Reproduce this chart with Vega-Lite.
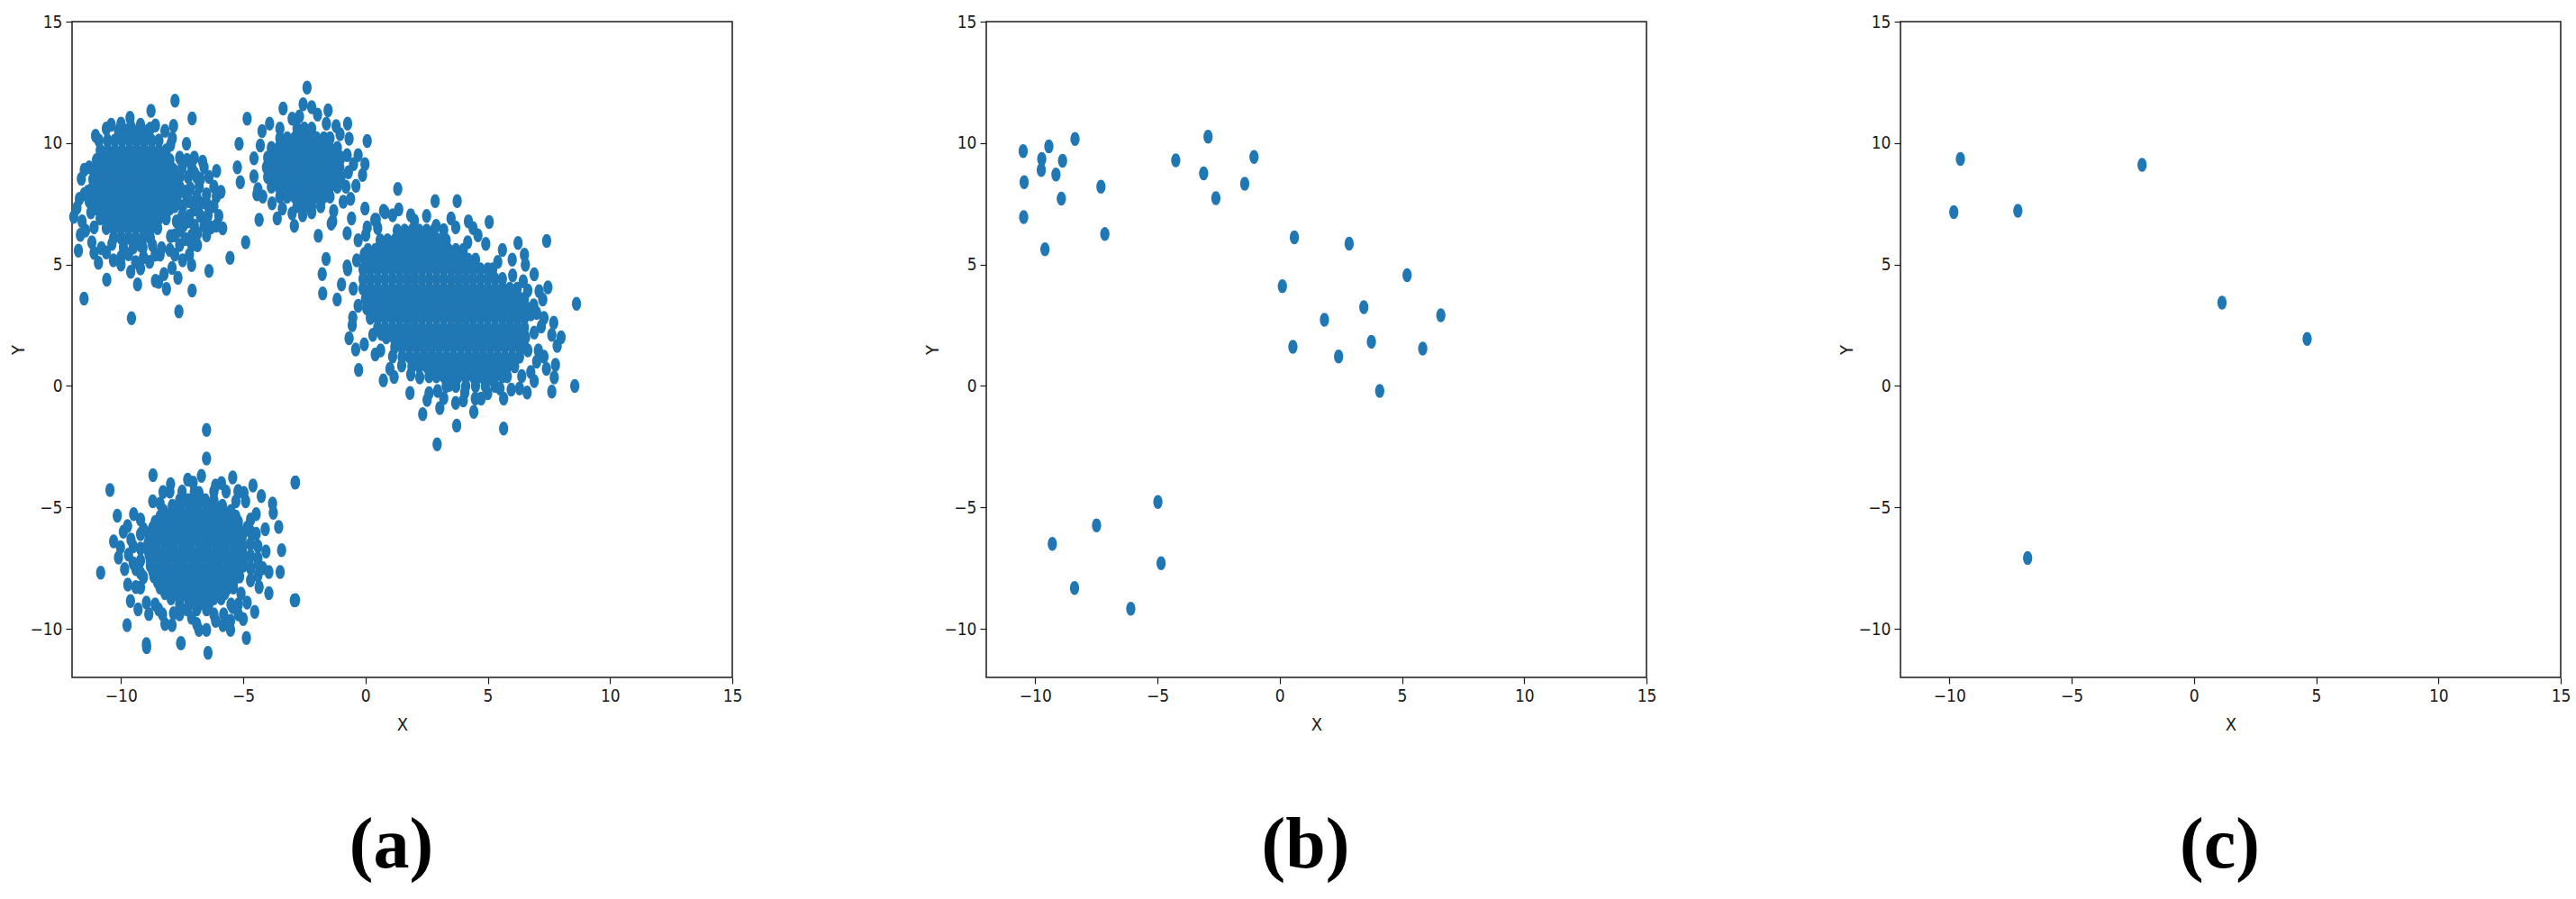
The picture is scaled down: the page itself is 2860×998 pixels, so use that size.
{
"$schema": "https://vega.github.io/schema/vega-lite/v6.json",
"background": "white",
"padding": {"left": 10, "top": 14, "right": 5, "bottom": 5},
"bounds": "flush",
"spacing": 282,
"config": {
  "view": {"stroke": "#1a1a1a", "strokeWidth": 1.5},
  "axis": {"domain": false, "grid": false, "tickColor": "#1a1a1a", "tickSize": 7, "tickWidth": 1.2, "labelFont": "'Liberation Sans Narrow', 'DejaVu Sans Condensed', 'Liberation Sans', sans-serif", "labelFontSize": 19, "labelColor": "#1a1a1a", "labelPadding": 4, "labelFlush": false, "labelOverlap": false, "labelBound": false, "titleFont": "'Liberation Sans Narrow', 'DejaVu Sans Condensed', 'Liberation Sans', sans-serif", "titleFontSize": 20, "titleFontWeight": "normal", "titleColor": "#1a1a1a"},
  "axisX": {"titlePadding": 12},
  "axisY": {"titlePadding": 2},
  "title": {"orient": "bottom", "font": "Liberation Serif", "fontSize": 80, "fontWeight": "bold", "color": "#000000", "offset": 86, "dx": -12}
},
"datasets": {
"a": [
{"x":-10.1,"y":10.5},{"x":-9.8,"y":10.5},{"x":-9.5,"y":10.5},{"x":-9.2,"y":10.5},{"x":-8.9,"y":10.5},
{"x":-10.55,"y":10.1},{"x":-10.25,"y":10.1},{"x":-9.95,"y":10.1},{"x":-9.65,"y":10.1},{"x":-9.35,"y":10.1},{"x":-9.05,"y":10.1},{"x":-8.75,"y":10.1},{"x":-8.45,"y":10.1},
{"x":-10.85,"y":9.7},{"x":-10.55,"y":9.7},{"x":-10.25,"y":9.7},{"x":-9.95,"y":9.7},{"x":-9.65,"y":9.7},{"x":-9.35,"y":9.7},{"x":-9.05,"y":9.7},{"x":-8.75,"y":9.7},{"x":-8.45,"y":9.7},{"x":-8.15,"y":9.7},
{"x":-11.0,"y":9.3},{"x":-10.7,"y":9.3},{"x":-10.4,"y":9.3},{"x":-10.1,"y":9.3},{"x":-9.8,"y":9.3},{"x":-9.5,"y":9.3},{"x":-9.2,"y":9.3},{"x":-8.9,"y":9.3},{"x":-8.6,"y":9.3},{"x":-8.3,"y":9.3},{"x":-8.0,"y":9.3},
{"x":-11.1,"y":8.9},{"x":-10.8,"y":8.9},{"x":-10.5,"y":8.9},{"x":-10.2,"y":8.9},{"x":-9.9,"y":8.9},{"x":-9.6,"y":8.9},{"x":-9.3,"y":8.9},{"x":-9.0,"y":8.9},{"x":-8.7,"y":8.9},{"x":-8.4,"y":8.9},{"x":-8.1,"y":8.9},{"x":-7.85,"y":8.9},
{"x":-11.15,"y":8.5},{"x":-10.85,"y":8.5},{"x":-10.55,"y":8.5},{"x":-10.25,"y":8.5},{"x":-9.95,"y":8.5},{"x":-9.65,"y":8.5},{"x":-9.35,"y":8.5},{"x":-9.05,"y":8.5},{"x":-8.75,"y":8.5},{"x":-8.45,"y":8.5},{"x":-8.15,"y":8.5},{"x":-7.85,"y":8.5},
{"x":-11.2,"y":8.1},{"x":-10.9,"y":8.1},{"x":-10.6,"y":8.1},{"x":-10.3,"y":8.1},{"x":-10.0,"y":8.1},{"x":-9.7,"y":8.1},{"x":-9.4,"y":8.1},{"x":-9.1,"y":8.1},{"x":-8.8,"y":8.1},{"x":-8.5,"y":8.1},{"x":-8.2,"y":8.1},{"x":-7.9,"y":8.1},
{"x":-11.1,"y":7.7},{"x":-10.8,"y":7.7},{"x":-10.5,"y":7.7},{"x":-10.2,"y":7.7},{"x":-9.9,"y":7.7},{"x":-9.6,"y":7.7},{"x":-9.3,"y":7.7},{"x":-9.0,"y":7.7},{"x":-8.7,"y":7.7},{"x":-8.4,"y":7.7},{"x":-8.1,"y":7.7},{"x":-7.85,"y":7.7},
{"x":-11.0,"y":7.3},{"x":-10.7,"y":7.3},{"x":-10.4,"y":7.3},{"x":-10.1,"y":7.3},{"x":-9.8,"y":7.3},{"x":-9.5,"y":7.3},{"x":-9.2,"y":7.3},{"x":-8.9,"y":7.3},{"x":-8.6,"y":7.3},{"x":-8.3,"y":7.3},{"x":-8.0,"y":7.3},
{"x":-10.85,"y":6.9},{"x":-10.55,"y":6.9},{"x":-10.25,"y":6.9},{"x":-9.95,"y":6.9},{"x":-9.65,"y":6.9},{"x":-9.35,"y":6.9},{"x":-9.05,"y":6.9},{"x":-8.75,"y":6.9},{"x":-8.45,"y":6.9},{"x":-8.15,"y":6.9},
{"x":-10.6,"y":6.5},{"x":-10.3,"y":6.5},{"x":-10.0,"y":6.5},{"x":-9.7,"y":6.5},{"x":-9.4,"y":6.5},{"x":-9.1,"y":6.5},{"x":-8.8,"y":6.5},{"x":-8.5,"y":6.5},
{"x":-10.3,"y":6.1},{"x":-10.0,"y":6.1},{"x":-9.7,"y":6.1},{"x":-9.4,"y":6.1},{"x":-9.1,"y":6.1},{"x":-8.8,"y":6.1},
{"x":-9.9,"y":5.7},{"x":-9.5,"y":5.7},{"x":-9.1,"y":5.7},
{"x":-7.6,"y":9.4},{"x":-7.0,"y":9.4},{"x":-7.5,"y":9.0},{"x":-7.1,"y":9.0},{"x":-6.6,"y":9.0},{"x":-7.25,"y":8.6},{"x":-6.9,"y":8.6},{"x":-6.4,"y":8.6},{"x":-7.6,"y":8.2},{"x":-6.8,"y":8.2},{"x":-6.2,"y":8.2},{"x":-7.3,"y":7.8},{"x":-6.9,"y":7.8},{"x":-6.1,"y":7.8},{"x":-7.8,"y":7.4},{"x":-7.0,"y":7.4},{"x":-6.2,"y":7.4},{"x":-7.2,"y":7.0},{"x":-6.75,"y":7.0},{"x":-6.0,"y":7.0},{"x":-7.45,"y":6.6},{"x":-6.6,"y":6.6},{"x":-6.1,"y":6.6},{"x":-7.8,"y":6.2},{"x":-7.1,"y":6.2},{"x":-6.5,"y":6.2},{"x":-7.6,"y":5.8},{"x":-7.1,"y":5.8},{"x":-8.4,"y":5.4},{"x":-7.2,"y":5.4},
{"x":-11.5,"y":8.9},{"x":-11.5,"y":7.9},{"x":-11.45,"y":6.4},{"x":-11.7,"y":7.7},{"x":-10.6,"y":5.5},{"x":-10.0,"y":5.3},{"x":-9.4,"y":5.1},{"x":-8.6,"y":5.4},{"x":-10.0,"y":5.0},{"x":-9.6,"y":4.7},
{"x":-11.62,"y":8.53},{"x":-11.8,"y":7.33},{"x":-11.93,"y":6.96},{"x":-11.59,"y":6.78},{"x":-11.66,"y":6.22},{"x":-11.74,"y":5.57},{"x":-11.51,"y":3.6},{"x":-11.23,"y":7.15},{"x":-11.1,"y":6.53},{"x":-11.19,"y":5.91},{"x":-11.1,"y":5.48},{"x":-10.92,"y":5.07},{"x":-10.8,"y":5.67},{"x":-10.58,"y":4.37},{"x":-11.04,"y":10.3},{"x":-9.63,"y":11.04},{"x":-8.77,"y":11.33},{"x":-7.79,"y":11.75},{"x":-7.09,"y":11.01},{"x":-7.85,"y":10.71},{"x":-8.59,"y":10.73},{"x":-7.32,"y":9.97},{"x":-7.3,"y":9.31},{"x":-6.66,"y":9.23},{"x":-6.09,"y":8.85},{"x":-5.91,"y":7.99},{"x":-5.84,"y":6.49},{"x":-6.4,"y":4.74},{"x":-7.09,"y":3.93},{"x":-7.63,"y":3.07},{"x":-8.14,"y":3.99},{"x":-8.59,"y":4.33},{"x":-9.32,"y":4.18},{"x":-9.57,"y":2.79},{"x":-9.2,"y":4.84},{"x":-8.83,"y":5.11},{"x":-8.46,"y":4.28},{"x":-8.24,"y":4.61},{"x":-7.91,"y":4.86},{"x":-7.67,"y":4.45},{"x":-7.11,"y":4.98},{"x":-7.48,"y":5.17},{"x":-6.87,"y":5.79},{"x":-6.31,"y":6.53},{"x":-6.44,"y":7.03},{"x":-6.5,"y":7.89},{"x":-6.75,"y":8.51},{"x":-6.99,"y":8.76},{"x":-7.17,"y":8.14},{"x":-7.97,"y":9.93},{"x":-7.97,"y":6.16},{"x":-7.73,"y":6.78},{"x":-7.48,"y":7.4},{"x":-7.24,"y":6.78},{"x":-6.99,"y":7.27},{"x":-6.87,"y":6.28},{"x":-7.36,"y":6.04},{"x":-6.75,"y":7.52},{"x":-6.5,"y":7.52},{"x":-10.31,"y":5.17},{"x":-10.37,"y":5.85},{"x":-9.69,"y":5.42},{"x":-9.08,"y":5.3},{"x":-9.2,"y":5.79},{"x":-8.71,"y":5.79},{"x":-8.34,"y":5.67},{"x":-8.83,"y":6.28},
{"x":-7.6,"y":8.6},{"x":-7.4,"y":8.0},{"x":-7.7,"y":7.8},{"x":-7.5,"y":7.0},{"x":-7.2,"y":7.6},{"x":-7.6,"y":6.4},{"x":-8.0,"y":5.6},{"x":-7.8,"y":5.4},{"x":-7.0,"y":6.6},{"x":-7.9,"y":10.2},{"x":-8.2,"y":10.5},{"x":-10.6,"y":10.6},{"x":-10.9,"y":10.1},{"x":-11.3,"y":9.0},{"x":-11.35,"y":8.0},{"x":-11.3,"y":7.6},{"x":-10.4,"y":10.75},{"x":-10.0,"y":10.8},{"x":-9.6,"y":10.7},{"x":-9.2,"y":10.75},{"x":-8.8,"y":10.6},
{"x":-4.84,"y":11.0},{"x":-5.17,"y":9.97},{"x":-5.24,"y":9.0},{"x":-5.12,"y":8.39},{"x":-4.35,"y":6.84},{"x":-4.9,"y":5.91},{"x":-5.54,"y":5.27},
{"x":-2.8,"y":10.6},{"x":-2.5,"y":10.6},{"x":-2.2,"y":10.6},
{"x":-3.5,"y":10.2},{"x":-3.2,"y":10.2},{"x":-2.9,"y":10.2},{"x":-2.6,"y":10.2},{"x":-2.3,"y":10.2},{"x":-2.0,"y":10.2},{"x":-1.7,"y":10.2},{"x":-1.45,"y":10.2},
{"x":-3.85,"y":9.8},{"x":-3.55,"y":9.8},{"x":-3.25,"y":9.8},{"x":-2.95,"y":9.8},{"x":-2.65,"y":9.8},{"x":-2.35,"y":9.8},{"x":-2.05,"y":9.8},{"x":-1.75,"y":9.8},{"x":-1.45,"y":9.8},{"x":-1.15,"y":9.8},
{"x":-4.0,"y":9.4},{"x":-3.7,"y":9.4},{"x":-3.4,"y":9.4},{"x":-3.1,"y":9.4},{"x":-2.8,"y":9.4},{"x":-2.5,"y":9.4},{"x":-2.2,"y":9.4},{"x":-1.9,"y":9.4},{"x":-1.6,"y":9.4},{"x":-1.3,"y":9.4},{"x":-1.0,"y":9.4},
{"x":-4.05,"y":9.0},{"x":-3.75,"y":9.0},{"x":-3.45,"y":9.0},{"x":-3.15,"y":9.0},{"x":-2.85,"y":9.0},{"x":-2.55,"y":9.0},{"x":-2.25,"y":9.0},{"x":-1.95,"y":9.0},{"x":-1.65,"y":9.0},{"x":-1.35,"y":9.0},{"x":-1.05,"y":9.0},
{"x":-4.0,"y":8.6},{"x":-3.7,"y":8.6},{"x":-3.4,"y":8.6},{"x":-3.1,"y":8.6},{"x":-2.8,"y":8.6},{"x":-2.5,"y":8.6},{"x":-2.2,"y":8.6},{"x":-1.9,"y":8.6},{"x":-1.6,"y":8.6},{"x":-1.3,"y":8.6},{"x":-1.0,"y":8.6},
{"x":-3.85,"y":8.2},{"x":-3.55,"y":8.2},{"x":-3.25,"y":8.2},{"x":-2.95,"y":8.2},{"x":-2.65,"y":8.2},{"x":-2.35,"y":8.2},{"x":-2.05,"y":8.2},{"x":-1.75,"y":8.2},{"x":-1.45,"y":8.2},{"x":-1.15,"y":8.2},
{"x":-3.5,"y":7.8},{"x":-3.2,"y":7.8},{"x":-2.9,"y":7.8},{"x":-2.6,"y":7.8},{"x":-2.3,"y":7.8},{"x":-2.0,"y":7.8},{"x":-1.7,"y":7.8},{"x":-1.45,"y":7.8},
{"x":-2.8,"y":7.4},{"x":-2.5,"y":7.4},{"x":-2.2,"y":7.4},
{"x":-2.39,"y":12.28},{"x":-4.44,"y":7.89},{"x":-3.37,"y":11.42},{"x":-2.55,"y":11.6},{"x":-2.2,"y":11.48},{"x":-1.53,"y":11.35},{"x":-0.73,"y":10.8},{"x":0.07,"y":10.09},{"x":-0.3,"y":9.5},{"x":-0.02,"y":9.13},{"x":-0.12,"y":8.69},{"x":-0.39,"y":8.24},{"x":-2.91,"y":6.59},{"x":-3.61,"y":6.9},{"x":-3.82,"y":7.52},{"x":-1.34,"y":6.78},{"x":-0.91,"y":7.58},{"x":-4.23,"y":10.49},{"x":-3.92,"y":10.8},{"x":-4.56,"y":9.37},{"x":-4.56,"y":8.63},{"x":-1.04,"y":10.36},{"x":-0.67,"y":10.18},{"x":-0.49,"y":9.13},{"x":-0.61,"y":7.7},{"x":-1.96,"y":11.17},{"x":-2.2,"y":7.15},{"x":-2.57,"y":7.03},{"x":-1.83,"y":7.4},
{"x":-3.0,"y":11.0},{"x":-2.7,"y":11.1},{"x":-1.6,"y":10.8},{"x":-1.2,"y":10.7},{"x":-3.5,"y":10.6},{"x":-4.3,"y":9.9},{"x":-4.4,"y":8.1},{"x":-4.2,"y":7.8},{"x":-3.4,"y":7.3},{"x":-3.0,"y":7.1},{"x":-0.8,"y":8.2},{"x":-0.7,"y":8.8},{"x":-0.75,"y":9.5},{"x":-1.3,"y":7.2},
{"x":1.3,"y":6.4},{"x":1.6,"y":6.4},{"x":1.9,"y":6.4},{"x":2.2,"y":6.4},{"x":2.5,"y":6.4},{"x":2.8,"y":6.4},
{"x":0.6,"y":6.0},{"x":0.9,"y":6.0},{"x":1.2,"y":6.0},{"x":1.5,"y":6.0},{"x":1.8,"y":6.0},{"x":2.1,"y":6.0},{"x":2.4,"y":6.0},{"x":2.7,"y":6.0},{"x":3.0,"y":6.0},{"x":3.3,"y":6.0},
{"x":0.1,"y":5.6},{"x":0.4,"y":5.6},{"x":0.7,"y":5.6},{"x":1.0,"y":5.6},{"x":1.3,"y":5.6},{"x":1.6,"y":5.6},{"x":1.9,"y":5.6},{"x":2.2,"y":5.6},{"x":2.5,"y":5.6},{"x":2.8,"y":5.6},{"x":3.1,"y":5.6},{"x":3.4,"y":5.6},{"x":3.7,"y":5.6},{"x":4.0,"y":5.6},
{"x":0.0,"y":5.2},{"x":0.3,"y":5.2},{"x":0.6,"y":5.2},{"x":0.9,"y":5.2},{"x":1.2,"y":5.2},{"x":1.5,"y":5.2},{"x":1.8,"y":5.2},{"x":2.1,"y":5.2},{"x":2.4,"y":5.2},{"x":2.7,"y":5.2},{"x":3.0,"y":5.2},{"x":3.3,"y":5.2},{"x":3.6,"y":5.2},{"x":3.9,"y":5.2},{"x":4.2,"y":5.2},{"x":4.5,"y":5.2},
{"x":-0.1,"y":4.8},{"x":0.2,"y":4.8},{"x":0.5,"y":4.8},{"x":0.8,"y":4.8},{"x":1.1,"y":4.8},{"x":1.4,"y":4.8},{"x":1.7,"y":4.8},{"x":2.0,"y":4.8},{"x":2.3,"y":4.8},{"x":2.6,"y":4.8},{"x":2.9,"y":4.8},{"x":3.2,"y":4.8},{"x":3.5,"y":4.8},{"x":3.8,"y":4.8},{"x":4.1,"y":4.8},{"x":4.4,"y":4.8},{"x":4.7,"y":4.8},{"x":5.0,"y":4.8},{"x":5.2,"y":4.8},
{"x":-0.1,"y":4.4},{"x":0.2,"y":4.4},{"x":0.5,"y":4.4},{"x":0.8,"y":4.4},{"x":1.1,"y":4.4},{"x":1.4,"y":4.4},{"x":1.7,"y":4.4},{"x":2.0,"y":4.4},{"x":2.3,"y":4.4},{"x":2.6,"y":4.4},{"x":2.9,"y":4.4},{"x":3.2,"y":4.4},{"x":3.5,"y":4.4},{"x":3.8,"y":4.4},{"x":4.1,"y":4.4},{"x":4.4,"y":4.4},{"x":4.7,"y":4.4},{"x":5.0,"y":4.4},{"x":5.3,"y":4.4},{"x":5.6,"y":4.4},
{"x":-0.1,"y":4.0},{"x":0.2,"y":4.0},{"x":0.5,"y":4.0},{"x":0.8,"y":4.0},{"x":1.1,"y":4.0},{"x":1.4,"y":4.0},{"x":1.7,"y":4.0},{"x":2.0,"y":4.0},{"x":2.3,"y":4.0},{"x":2.6,"y":4.0},{"x":2.9,"y":4.0},{"x":3.2,"y":4.0},{"x":3.5,"y":4.0},{"x":3.8,"y":4.0},{"x":4.1,"y":4.0},{"x":4.4,"y":4.0},{"x":4.7,"y":4.0},{"x":5.0,"y":4.0},{"x":5.3,"y":4.0},{"x":5.6,"y":4.0},{"x":5.9,"y":4.0},{"x":6.2,"y":4.0},
{"x":0.0,"y":3.6},{"x":0.3,"y":3.6},{"x":0.6,"y":3.6},{"x":0.9,"y":3.6},{"x":1.2,"y":3.6},{"x":1.5,"y":3.6},{"x":1.8,"y":3.6},{"x":2.1,"y":3.6},{"x":2.4,"y":3.6},{"x":2.7,"y":3.6},{"x":3.0,"y":3.6},{"x":3.3,"y":3.6},{"x":3.6,"y":3.6},{"x":3.9,"y":3.6},{"x":4.2,"y":3.6},{"x":4.5,"y":3.6},{"x":4.8,"y":3.6},{"x":5.1,"y":3.6},{"x":5.4,"y":3.6},{"x":5.7,"y":3.6},{"x":6.0,"y":3.6},{"x":6.3,"y":3.6},{"x":6.5,"y":3.6},
{"x":0.05,"y":3.2},{"x":0.35,"y":3.2},{"x":0.65,"y":3.2},{"x":0.95,"y":3.2},{"x":1.25,"y":3.2},{"x":1.55,"y":3.2},{"x":1.85,"y":3.2},{"x":2.15,"y":3.2},{"x":2.45,"y":3.2},{"x":2.75,"y":3.2},{"x":3.05,"y":3.2},{"x":3.35,"y":3.2},{"x":3.65,"y":3.2},{"x":3.95,"y":3.2},{"x":4.25,"y":3.2},{"x":4.55,"y":3.2},{"x":4.85,"y":3.2},{"x":5.15,"y":3.2},{"x":5.45,"y":3.2},{"x":5.75,"y":3.2},{"x":6.05,"y":3.2},{"x":6.35,"y":3.2},{"x":6.6,"y":3.2},
{"x":0.2,"y":2.8},{"x":0.5,"y":2.8},{"x":0.8,"y":2.8},{"x":1.1,"y":2.8},{"x":1.4,"y":2.8},{"x":1.7,"y":2.8},{"x":2.0,"y":2.8},{"x":2.3,"y":2.8},{"x":2.6,"y":2.8},{"x":2.9,"y":2.8},{"x":3.2,"y":2.8},{"x":3.5,"y":2.8},{"x":3.8,"y":2.8},{"x":4.1,"y":2.8},{"x":4.4,"y":2.8},{"x":4.7,"y":2.8},{"x":5.0,"y":2.8},{"x":5.3,"y":2.8},{"x":5.6,"y":2.8},{"x":5.9,"y":2.8},{"x":6.2,"y":2.8},{"x":6.5,"y":2.8},
{"x":0.5,"y":2.4},{"x":0.8,"y":2.4},{"x":1.1,"y":2.4},{"x":1.4,"y":2.4},{"x":1.7,"y":2.4},{"x":2.0,"y":2.4},{"x":2.3,"y":2.4},{"x":2.6,"y":2.4},{"x":2.9,"y":2.4},{"x":3.2,"y":2.4},{"x":3.5,"y":2.4},{"x":3.8,"y":2.4},{"x":4.1,"y":2.4},{"x":4.4,"y":2.4},{"x":4.7,"y":2.4},{"x":5.0,"y":2.4},{"x":5.3,"y":2.4},{"x":5.6,"y":2.4},{"x":5.9,"y":2.4},{"x":6.2,"y":2.4},{"x":6.5,"y":2.4},
{"x":0.85,"y":2.0},{"x":1.15,"y":2.0},{"x":1.45,"y":2.0},{"x":1.75,"y":2.0},{"x":2.05,"y":2.0},{"x":2.35,"y":2.0},{"x":2.65,"y":2.0},{"x":2.95,"y":2.0},{"x":3.25,"y":2.0},{"x":3.55,"y":2.0},{"x":3.85,"y":2.0},{"x":4.15,"y":2.0},{"x":4.45,"y":2.0},{"x":4.75,"y":2.0},{"x":5.05,"y":2.0},{"x":5.35,"y":2.0},{"x":5.65,"y":2.0},{"x":5.95,"y":2.0},{"x":6.25,"y":2.0},{"x":6.55,"y":2.0},
{"x":1.2,"y":1.6},{"x":1.5,"y":1.6},{"x":1.8,"y":1.6},{"x":2.1,"y":1.6},{"x":2.4,"y":1.6},{"x":2.7,"y":1.6},{"x":3.0,"y":1.6},{"x":3.3,"y":1.6},{"x":3.6,"y":1.6},{"x":3.9,"y":1.6},{"x":4.2,"y":1.6},{"x":4.5,"y":1.6},{"x":4.8,"y":1.6},{"x":5.1,"y":1.6},{"x":5.4,"y":1.6},{"x":5.7,"y":1.6},{"x":6.0,"y":1.6},{"x":6.3,"y":1.6},{"x":6.5,"y":1.6},
{"x":1.5,"y":1.2},{"x":1.8,"y":1.2},{"x":2.1,"y":1.2},{"x":2.4,"y":1.2},{"x":2.7,"y":1.2},{"x":3.0,"y":1.2},{"x":3.3,"y":1.2},{"x":3.6,"y":1.2},{"x":3.9,"y":1.2},{"x":4.2,"y":1.2},{"x":4.5,"y":1.2},{"x":4.8,"y":1.2},{"x":5.1,"y":1.2},{"x":5.4,"y":1.2},{"x":5.7,"y":1.2},{"x":6.0,"y":1.2},{"x":6.3,"y":1.2},
{"x":1.9,"y":0.8},{"x":2.2,"y":0.8},{"x":2.5,"y":0.8},{"x":2.8,"y":0.8},{"x":3.1,"y":0.8},{"x":3.4,"y":0.8},{"x":3.7,"y":0.8},{"x":4.0,"y":0.8},{"x":4.3,"y":0.8},{"x":4.6,"y":0.8},{"x":4.9,"y":0.8},{"x":5.2,"y":0.8},{"x":5.5,"y":0.8},{"x":5.8,"y":0.8},{"x":6.1,"y":0.8},
{"x":2.6,"y":0.4},{"x":2.9,"y":0.4},{"x":3.2,"y":0.4},{"x":3.5,"y":0.4},{"x":3.8,"y":0.4},{"x":4.1,"y":0.4},{"x":4.4,"y":0.4},{"x":4.7,"y":0.4},{"x":5.0,"y":0.4},{"x":5.3,"y":0.4},{"x":5.6,"y":0.4},{"x":5.8,"y":0.4},
{"x":3.3,"y":0.0},{"x":3.7,"y":0.0},{"x":4.1,"y":0.0},{"x":4.5,"y":0.0},{"x":4.9,"y":0.0},{"x":5.3,"y":0.0},
{"x":7.0,"y":3.0},{"x":7.3,"y":2.8},{"x":6.9,"y":2.2},{"x":7.0,"y":1.0},{"x":7.3,"y":1.2},{"x":6.9,"y":4.6},{"x":6.0,"y":5.2},{"x":5.6,"y":5.6},{"x":4.6,"y":6.2},{"x":5.5,"y":-0.1},{"x":6.3,"y":-0.1},{"x":6.9,"y":0.2},{"x":7.4,"y":0.7},{"x":0.4,"y":1.3},{"x":-0.3,"y":3.3},{"x":-0.5,"y":4.0},{"x":-0.4,"y":1.5},{"x":1.0,"y":0.7},{"x":2.6,"y":-0.3},{"x":4.0,"y":-0.6},{"x":3.2,"y":-0.5},{"x":5.0,"y":-0.3},{"x":7.1,"y":3.9},{"x":7.7,"y":2.6},{"x":8.0,"y":2.0},{"x":-0.3,"y":6.0},{"x":0.5,"y":6.5},{"x":2.0,"y":6.8},{"x":2.5,"y":7.0},{"x":3.5,"y":6.9},{"x":4.4,"y":6.5},{"x":6.5,"y":5.4},
{"x":1.32,"y":8.11},{"x":2.85,"y":7.61},{"x":3.75,"y":7.61},{"x":5.06,"y":6.75},{"x":4.21,"y":6.78},{"x":6.24,"y":5.89},{"x":7.41,"y":5.97},{"x":6.54,"y":4.99},{"x":7.46,"y":4.06},{"x":8.63,"y":3.38},{"x":7.25,"y":3.56},{"x":7.19,"y":2.45},{"x":7.62,"y":2.1},{"x":7.84,"y":1.65},{"x":7.77,"y":0.87},{"x":7.72,"y":0.35},{"x":7.62,"y":-0.23},{"x":8.56,"y":0.0},{"x":6.61,"y":-0.27},{"x":6.76,"y":0.57},{"x":6.39,"y":0.41},{"x":5.65,"y":-1.75},{"x":3.73,"y":-1.63},{"x":2.93,"y":-2.4},{"x":2.34,"y":-1.16},{"x":3.04,"y":-0.91},{"x":4.43,"y":-1.07},{"x":3.69,"y":-0.7},{"x":2.52,"y":-0.58},{"x":1.82,"y":-0.29},{"x":0.73,"y":0.23},{"x":1.17,"y":0.37},{"x":-0.28,"y":0.66},{"x":-0.67,"y":1.96},{"x":-0.52,"y":2.82},{"x":-1.16,"y":3.56},{"x":-1.75,"y":3.81},{"x":-1.77,"y":4.61},{"x":-1.61,"y":5.23},{"x":-1.93,"y":6.18},{"x":-1.4,"y":6.68},{"x":-0.75,"y":6.28},{"x":-0.57,"y":6.9},{"x":-0.02,"y":7.3},{"x":0.8,"y":7.15},{"x":1.36,"y":7.27},{"x":1.85,"y":7.03},{"x":0.44,"y":6.84},{"x":-0.98,"y":4.18},{"x":-0.73,"y":4.8},{"x":-0.36,"y":5.17},{"x":-0.75,"y":4.92},{"x":-0.05,"y":5.42},{"x":-0.05,"y":1.71},{"x":0.66,"y":2.14},{"x":0.62,"y":1.46},{"x":1.11,"y":1.21},{"x":1.48,"y":0.84},{"x":1.85,"y":0.47},{"x":2.22,"y":0.35},{"x":2.95,"y":-0.21},{"x":3.44,"y":0.04},{"x":4.06,"y":-0.27},{"x":4.49,"y":-0.52},{"x":4.73,"y":-0.52},{"x":5.22,"y":0.23},{"x":5.65,"y":-0.52},{"x":5.96,"y":-0.15},{"x":6.64,"y":1.46},{"x":7.07,"y":1.46},{"x":6.76,"y":2.95},{"x":6.88,"y":3.32},{"x":6.64,"y":3.93},{"x":6.45,"y":4.31},{"x":6.02,"y":4.55},{"x":5.41,"y":5.11},{"x":4.92,"y":5.85},{"x":4.18,"y":5.91},{"x":3.69,"y":6.53},{"x":3.2,"y":6.41},{"x":2.89,"y":6.59},{"x":0.74,"y":7.21},{"x":1.11,"y":7.03},{"x":0.38,"y":6.84},{"x":0.07,"y":6.53},{"x":0.01,"y":6.22},{"x":-0.54,"y":2.5},{"x":0.3,"y":2.1},
{"x":-7.6,"y":-4.7},{"x":-7.25,"y":-4.7},{"x":-6.9,"y":-4.7},{"x":-6.55,"y":-4.7},{"x":-6.2,"y":-4.7},
{"x":-8.25,"y":-5.15},{"x":-7.9,"y":-5.15},{"x":-7.55,"y":-5.15},{"x":-7.2,"y":-5.15},{"x":-6.85,"y":-5.15},{"x":-6.5,"y":-5.15},{"x":-6.15,"y":-5.15},{"x":-5.8,"y":-5.15},{"x":-5.5,"y":-5.15},
{"x":-8.6,"y":-5.6},{"x":-8.25,"y":-5.6},{"x":-7.9,"y":-5.6},{"x":-7.55,"y":-5.6},{"x":-7.2,"y":-5.6},{"x":-6.85,"y":-5.6},{"x":-6.5,"y":-5.6},{"x":-6.15,"y":-5.6},{"x":-5.8,"y":-5.6},{"x":-5.45,"y":-5.6},{"x":-5.2,"y":-5.6},
{"x":-8.8,"y":-6.05},{"x":-8.45,"y":-6.05},{"x":-8.1,"y":-6.05},{"x":-7.75,"y":-6.05},{"x":-7.4,"y":-6.05},{"x":-7.05,"y":-6.05},{"x":-6.7,"y":-6.05},{"x":-6.35,"y":-6.05},{"x":-6.0,"y":-6.05},{"x":-5.65,"y":-6.05},{"x":-5.3,"y":-6.05},{"x":-5.0,"y":-6.05},
{"x":-8.9,"y":-6.5},{"x":-8.55,"y":-6.5},{"x":-8.2,"y":-6.5},{"x":-7.85,"y":-6.5},{"x":-7.5,"y":-6.5},{"x":-7.15,"y":-6.5},{"x":-6.8,"y":-6.5},{"x":-6.45,"y":-6.5},{"x":-6.1,"y":-6.5},{"x":-5.75,"y":-6.5},{"x":-5.4,"y":-6.5},{"x":-5.05,"y":-6.5},
{"x":-8.85,"y":-6.95},{"x":-8.5,"y":-6.95},{"x":-8.15,"y":-6.95},{"x":-7.8,"y":-6.95},{"x":-7.45,"y":-6.95},{"x":-7.1,"y":-6.95},{"x":-6.75,"y":-6.95},{"x":-6.4,"y":-6.95},{"x":-6.05,"y":-6.95},{"x":-5.7,"y":-6.95},{"x":-5.35,"y":-6.95},{"x":-5.0,"y":-6.95},
{"x":-8.8,"y":-7.4},{"x":-8.45,"y":-7.4},{"x":-8.1,"y":-7.4},{"x":-7.75,"y":-7.4},{"x":-7.4,"y":-7.4},{"x":-7.05,"y":-7.4},{"x":-6.7,"y":-7.4},{"x":-6.35,"y":-7.4},{"x":-6.0,"y":-7.4},{"x":-5.65,"y":-7.4},{"x":-5.3,"y":-7.4},{"x":-5.0,"y":-7.4},
{"x":-8.65,"y":-7.85},{"x":-8.3,"y":-7.85},{"x":-7.95,"y":-7.85},{"x":-7.6,"y":-7.85},{"x":-7.25,"y":-7.85},{"x":-6.9,"y":-7.85},{"x":-6.55,"y":-7.85},{"x":-6.2,"y":-7.85},{"x":-5.85,"y":-7.85},{"x":-5.5,"y":-7.85},{"x":-5.15,"y":-7.85},
{"x":-8.4,"y":-8.3},{"x":-8.05,"y":-8.3},{"x":-7.7,"y":-8.3},{"x":-7.35,"y":-8.3},{"x":-7.0,"y":-8.3},{"x":-6.65,"y":-8.3},{"x":-6.3,"y":-8.3},{"x":-5.95,"y":-8.3},{"x":-5.6,"y":-8.3},{"x":-5.4,"y":-8.3},
{"x":-7.95,"y":-8.75},{"x":-7.6,"y":-8.75},{"x":-7.25,"y":-8.75},{"x":-6.9,"y":-8.75},{"x":-6.55,"y":-8.75},{"x":-6.2,"y":-8.75},{"x":-5.9,"y":-8.75},
{"x":-7.3,"y":-9.2},{"x":-6.9,"y":-9.2},{"x":-6.5,"y":-9.2},
{"x":-7.9,"y":-4.93},{"x":-7.55,"y":-4.93},{"x":-7.2,"y":-4.93},{"x":-6.85,"y":-4.93},{"x":-6.5,"y":-4.93},{"x":-6.15,"y":-4.93},{"x":-5.85,"y":-4.93},
{"x":-8.4,"y":-5.38},{"x":-8.05,"y":-5.38},{"x":-7.7,"y":-5.38},{"x":-7.35,"y":-5.38},{"x":-7.0,"y":-5.38},{"x":-6.65,"y":-5.38},{"x":-6.3,"y":-5.38},{"x":-5.95,"y":-5.38},{"x":-5.6,"y":-5.38},{"x":-5.3,"y":-5.38},
{"x":-8.7,"y":-5.83},{"x":-8.35,"y":-5.83},{"x":-8.0,"y":-5.83},{"x":-7.65,"y":-5.83},{"x":-7.3,"y":-5.83},{"x":-6.95,"y":-5.83},{"x":-6.6,"y":-5.83},{"x":-6.25,"y":-5.83},{"x":-5.9,"y":-5.83},{"x":-5.55,"y":-5.83},{"x":-5.2,"y":-5.83},
{"x":-8.85,"y":-6.28},{"x":-8.5,"y":-6.28},{"x":-8.15,"y":-6.28},{"x":-7.8,"y":-6.28},{"x":-7.45,"y":-6.28},{"x":-7.1,"y":-6.28},{"x":-6.75,"y":-6.28},{"x":-6.4,"y":-6.28},{"x":-6.05,"y":-6.28},{"x":-5.7,"y":-6.28},{"x":-5.35,"y":-6.28},{"x":-5.05,"y":-6.28},
{"x":-8.9,"y":-6.73},{"x":-8.55,"y":-6.73},{"x":-8.2,"y":-6.73},{"x":-7.85,"y":-6.73},{"x":-7.5,"y":-6.73},{"x":-7.15,"y":-6.73},{"x":-6.8,"y":-6.73},{"x":-6.45,"y":-6.73},{"x":-6.1,"y":-6.73},{"x":-5.75,"y":-6.73},{"x":-5.4,"y":-6.73},{"x":-5.05,"y":-6.73},
{"x":-8.8,"y":-7.18},{"x":-8.45,"y":-7.18},{"x":-8.1,"y":-7.18},{"x":-7.75,"y":-7.18},{"x":-7.4,"y":-7.18},{"x":-7.05,"y":-7.18},{"x":-6.7,"y":-7.18},{"x":-6.35,"y":-7.18},{"x":-6.0,"y":-7.18},{"x":-5.65,"y":-7.18},{"x":-5.3,"y":-7.18},{"x":-5.0,"y":-7.18},
{"x":-8.7,"y":-7.63},{"x":-8.35,"y":-7.63},{"x":-8.0,"y":-7.63},{"x":-7.65,"y":-7.63},{"x":-7.3,"y":-7.63},{"x":-6.95,"y":-7.63},{"x":-6.6,"y":-7.63},{"x":-6.25,"y":-7.63},{"x":-5.9,"y":-7.63},{"x":-5.55,"y":-7.63},{"x":-5.2,"y":-7.63},
{"x":-8.5,"y":-8.08},{"x":-8.15,"y":-8.08},{"x":-7.8,"y":-8.08},{"x":-7.45,"y":-8.08},{"x":-7.1,"y":-8.08},{"x":-6.75,"y":-8.08},{"x":-6.4,"y":-8.08},{"x":-6.05,"y":-8.08},{"x":-5.7,"y":-8.08},{"x":-5.4,"y":-8.08},
{"x":-8.2,"y":-8.53},{"x":-7.85,"y":-8.53},{"x":-7.5,"y":-8.53},{"x":-7.15,"y":-8.53},{"x":-6.8,"y":-8.53},{"x":-6.45,"y":-8.53},{"x":-6.1,"y":-8.53},{"x":-5.75,"y":-8.53},
{"x":-7.6,"y":-8.98},{"x":-7.2,"y":-8.98},{"x":-6.8,"y":-8.98},{"x":-6.4,"y":-8.98},
{"x":-8.0,"y":-4.35},{"x":-7.5,"y":-4.35},{"x":-7.0,"y":-4.35},{"x":-6.2,"y":-4.35},{"x":-5.7,"y":-4.35},{"x":-5.2,"y":-4.35},{"x":-8.7,"y":-4.75},{"x":-5.3,"y":-4.75},{"x":-4.9,"y":-4.75},
{"x":-9.2,"y":-5.5},{"x":-9.2,"y":-6.1},{"x":-9.2,"y":-6.7},{"x":-9.2,"y":-7.2},{"x":-9.2,"y":-7.7},{"x":-9.2,"y":-8.3},{"x":-9.5,"y":-6.6},{"x":-9.5,"y":-7.3},
{"x":-4.7,"y":-5.5},{"x":-4.7,"y":-6.0},{"x":-4.7,"y":-6.5},{"x":-4.7,"y":-7.0},{"x":-4.7,"y":-7.5},{"x":-4.7,"y":-8.0},{"x":-4.4,"y":-6.6},{"x":-4.4,"y":-7.1},{"x":-4.4,"y":-7.8},
{"x":-8.3,"y":-9.4},{"x":-7.6,"y":-9.4},{"x":-6.2,"y":-9.4},{"x":-5.8,"y":-9.4},{"x":-5.2,"y":-9.4},{"x":-8.6,"y":-9.0},{"x":-5.5,"y":-9.0},{"x":-5.2,"y":-9.0},
{"x":-4.1,"y":-5.9},{"x":-4.2,"y":-7.5},{"x":-9.9,"y":-6.0},{"x":-10.3,"y":-6.4},{"x":-9.3,"y":-9.2},{"x":-8.2,"y":-9.8},{"x":-6.9,"y":-9.8},{"x":-5.0,"y":-9.6},
{"x":-6.5,"y":-1.81},{"x":-6.5,"y":-2.99},{"x":-10.45,"y":-4.29},{"x":-8.69,"y":-3.67},{"x":-7.97,"y":-4.04},{"x":-7.27,"y":-3.86},{"x":-6.71,"y":-3.7},{"x":-5.43,"y":-3.77},{"x":-4.6,"y":-4.1},{"x":-2.88,"y":-3.98},{"x":-4.26,"y":-4.54},{"x":-3.8,"y":-4.84},{"x":-3.77,"y":-5.22},{"x":-3.55,"y":-5.81},{"x":-3.43,"y":-6.76},{"x":-3.49,"y":-7.66},{"x":-4.07,"y":-6.82},{"x":-3.95,"y":-7.66},{"x":-3.95,"y":-8.53},{"x":-2.91,"y":-8.83},{"x":-4.39,"y":-7.32},{"x":-4.35,"y":-8.28},{"x":-4.53,"y":-9.3},{"x":-4.87,"y":-10.38},{"x":-5.52,"y":-10.04},{"x":-5.83,"y":-9.85},{"x":-6.5,"y":-10.04},{"x":-6.81,"y":-10.04},{"x":-7.54,"y":-10.59},{"x":-7.91,"y":-9.85},{"x":-8.86,"y":-9.39},{"x":-8.46,"y":-9.2},{"x":-9.75,"y":-9.85},{"x":-8.96,"y":-10.63},{"x":-10.83,"y":-7.69},{"x":-10.15,"y":-5.34},{"x":-9.48,"y":-5.28},{"x":-9.73,"y":-5.77},{"x":-9.59,"y":-6.33},{"x":-10.02,"y":-6.64},{"x":-10.1,"y":-7.07},{"x":-9.69,"y":-6.95},{"x":-9.85,"y":-7.54},{"x":-9.39,"y":-7.54},{"x":-9.72,"y":-8.18},{"x":-9.61,"y":-8.86},{"x":-9.39,"y":-8.28},{"x":-9.08,"y":-7.87},{"x":-8.96,"y":-8.92},{"x":-7.85,"y":-9.36},{"x":-7.11,"y":-9.54},{"x":-7.05,"y":-3.98},{"x":-6.81,"y":-4.41},{"x":-6.13,"y":-4.1},{"x":-5.89,"y":-4.0},{"x":-5.21,"y":-4.32},{"x":-4.97,"y":-4.41},{"x":-8.28,"y":-4.37},{"x":-8.4,"y":-4.84},{"x":-9.08,"y":-5.9},{"x":-4.47,"y":-5.28},{"x":-4.84,"y":-5.83},{"x":-4.47,"y":-6.08},{"x":-5.03,"y":-6.7},{"x":-5.09,"y":-8.55},{"x":-4.84,"y":-8.92},{"x":-5.43,"y":-9.11},{"x":-6.13,"y":-9.67},{"x":-5.52,"y":-9.67},{"x":-6.44,"y":-10.99},{"x":-8.95,"y":-10.76},{"x":-2.86,"y":-3.97},{"x":-2.86,"y":-8.82},{"x":-7.56,"y":-10.59}
],
"b": [
{"x":-10.49,"y":9.67},{"x":-10.45,"y":8.39},{"x":-10.47,"y":6.95},{"x":-9.73,"y":9.34},{"x":-9.75,"y":8.89},{"x":-9.44,"y":9.86},{"x":-9.15,"y":8.7},{"x":-8.88,"y":9.27},{"x":-8.93,"y":7.71},{"x":-9.6,"y":5.63},{"x":-8.37,"y":10.17},{"x":-7.31,"y":8.2},{"x":-7.15,"y":6.26},{"x":-4.25,"y":9.29},{"x":-2.93,"y":10.26},{"x":-3.11,"y":8.75},{"x":-2.61,"y":7.73},{"x":-1.43,"y":8.32},{"x":-1.05,"y":9.43},{"x":0.6,"y":6.12},{"x":0.11,"y":4.11},{"x":2.84,"y":5.86},{"x":5.21,"y":4.56},{"x":1.83,"y":2.72},{"x":3.44,"y":3.24},{"x":6.59,"y":2.91},{"x":0.54,"y":1.61},{"x":2.41,"y":1.21},{"x":3.75,"y":1.82},{"x":5.85,"y":1.54},{"x":4.09,"y":-0.21},{"x":-4.98,"y":-4.78},{"x":-7.49,"y":-5.74},{"x":-9.3,"y":-6.5},{"x":-4.85,"y":-7.3},{"x":-8.39,"y":-8.32},{"x":-6.09,"y":-9.17}
],
"c": [
{"x":-9.82,"y":7.16},{"x":-9.55,"y":9.34},{"x":-7.2,"y":7.21},{"x":-2.12,"y":9.1},{"x":1.15,"y":3.43},{"x":4.63,"y":1.94},{"x":-6.8,"y":-7.09}
]
},
"hconcat": [
{
 "width": 733, "height": 728,
 "data": {"name": "a"},
 "title": {"text": "(a)"},
 "mark": {"type": "point", "shape": "M0,-1A0.66,1,0,1,1,0,1A0.66,1,0,1,1,0,-1Z", "filled": true, "opacity": 1, "color": "#1f77b4", "size": 240},
 "encoding": {
  "x": {"field": "x", "type": "quantitative", "scale": {"domain": [-12, 15], "nice": false, "zero": false}, "axis": {"values": [-10, -5, 0, 5, 10, 15], "title": "X"}},
  "y": {"field": "y", "type": "quantitative", "scale": {"domain": [-12, 15], "nice": false, "zero": false}, "axis": {"values": [-10, -5, 0, 5, 10, 15], "title": "Y"}}
 }
},
{
 "width": 733, "height": 728,
 "data": {"name": "b"},
 "title": {"text": "(b)"},
 "mark": {"type": "point", "shape": "M0,-1A0.66,1,0,1,1,0,1A0.66,1,0,1,1,0,-1Z", "filled": true, "opacity": 1, "color": "#1f77b4", "size": 240},
 "encoding": {
  "x": {"field": "x", "type": "quantitative", "scale": {"domain": [-12, 15], "nice": false, "zero": false}, "axis": {"values": [-10, -5, 0, 5, 10, 15], "title": "X"}},
  "y": {"field": "y", "type": "quantitative", "scale": {"domain": [-12, 15], "nice": false, "zero": false}, "axis": {"values": [-10, -5, 0, 5, 10, 15], "title": "Y"}}
 }
},
{
 "width": 733, "height": 728,
 "data": {"name": "c"},
 "title": {"text": "(c)"},
 "mark": {"type": "point", "shape": "M0,-1A0.66,1,0,1,1,0,1A0.66,1,0,1,1,0,-1Z", "filled": true, "opacity": 1, "color": "#1f77b4", "size": 240},
 "encoding": {
  "x": {"field": "x", "type": "quantitative", "scale": {"domain": [-12, 15], "nice": false, "zero": false}, "axis": {"values": [-10, -5, 0, 5, 10, 15], "title": "X"}},
  "y": {"field": "y", "type": "quantitative", "scale": {"domain": [-12, 15], "nice": false, "zero": false}, "axis": {"values": [-10, -5, 0, 5, 10, 15], "title": "Y"}}
 }
}
]
}
